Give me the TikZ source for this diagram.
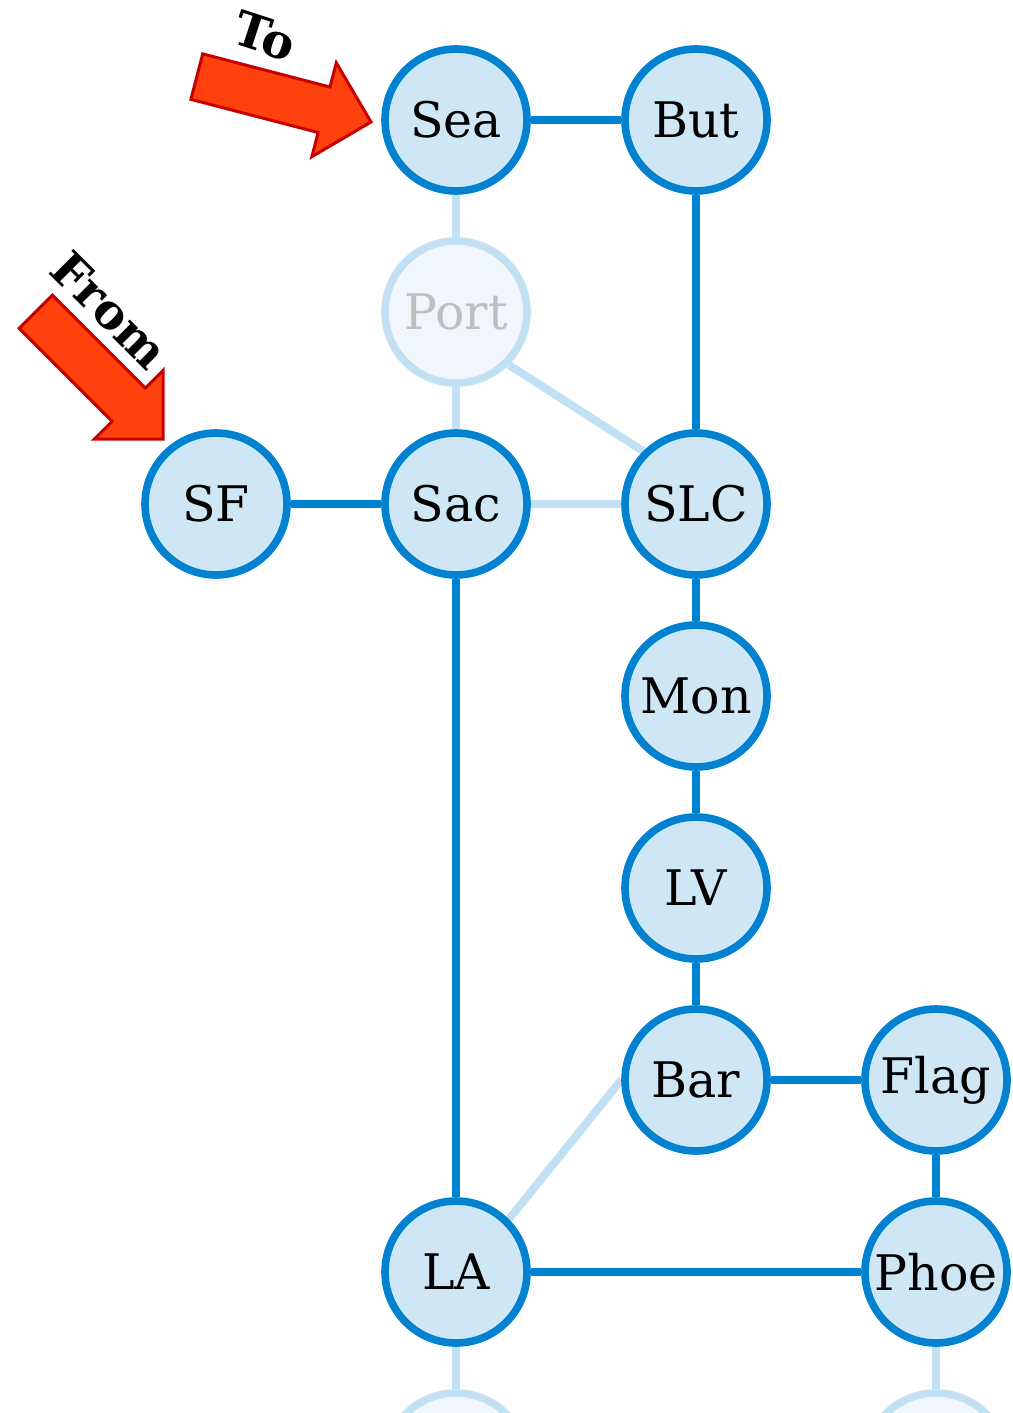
\documentclass[tikz,border=0pt]{standalone}
\usepackage{fontspec}
\setmainfont{DejaVu Serif}
\usetikzlibrary{backgrounds}
\definecolor{roadblue}{HTML}{0082D0}
\definecolor{cityfill}{HTML}{CFE6F4}
\definecolor{dimblue}{HTML}{C2E0F3}
\definecolor{dimfill}{HTML}{F0F6FB}
\definecolor{dimtext}{HTML}{BFBFBF}
\definecolor{arrowfill}{HTML}{FF410D}
\definecolor{arrowline}{HTML}{C80000}
\tikzset{
  city/.style={circle, draw=roadblue, fill=cityfill, line width=3.8pt, minimum size=71pt, inner sep=0pt, font=\fontsize{24.5}{29}\selectfont},
  dimcity/.style={city, draw=dimblue, fill=dimfill, text=dimtext},
  road/.style={draw=roadblue, line width=4pt},
  dimroad/.style={draw=dimblue, line width=4pt},
  pointer/.style={fill=arrowfill, draw=arrowline, line width=1.5pt, line join=miter},
  tag/.style={font=\bfseries\fontsize{24}{28}\selectfont}
}

\begin{document}
\begin{tikzpicture}[x=0.5pt, y=-0.5pt]
\useasboundingbox (0,0) rectangle (1012,1413);
\clip (0,0) rectangle (1012,1413);
\node[city]    (SF)   at (216,504)  {SF};
\node[city]    (Sea)  at (456,120)  {Sea};
\node[dimcity] (Port) at (456,312)  {Port};
\node[city]    (Sac)  at (456,504)  {Sac};
\node[city]    (LA)   at (456,1272) {LA};
\node[dimcity] (nextLA) at (456,1464) {};
\node[city]    (But)  at (696,120)  {But};
\node[city]    (SLC)  at (696,504)  {SLC};
\node[city]    (Mon)  at (696,696)  {Mon};
\node[city]    (LV)   at (696,888)  {LV};
\node[city]    (Bar)  at (696,1080) {Bar};
\node[city]    (Flag) at (936,1080) {Flag};
\node[city]    (Phoe) at (936,1272) {Phoe};
\node[dimcity] (nextPhoe) at (936,1464) {};
\begin{scope}[on background layer]
\foreach \i/\j in {Sea/But, But/SLC, SF/Sac, Sac/LA, SLC/Mon, Mon/LV, LV/Bar, Bar/Flag, Flag/Phoe, LA/Phoe}
{
  \draw[road] (\i) to (\j);
}
\foreach \i/\j in {Sea/Port, Port/Sac, Port.south east/SLC.north west, Sac/SLC, LA.north east/Bar.west, LA/nextLA, Phoe/nextPhoe}
{
  \draw[dimroad] (\i) to (\j);
}
\end{scope}
% the two pointers
\foreach \tx/\ty/\ang in {371/122/-14.6, 163/439/-45}
{
  \begin{scope}[shift={(\tx,\ty)}, rotate=\ang]
    \draw[pointer] (-180,-23.5) -- (-48.5,-23.5) -- (-48.5,-48.5) -- (0,0)
      -- (-48.5,48.5) -- (-48.5,23.5) -- (-180,23.5) -- cycle;
  \end{scope}
}
\node[tag, rotate=-18] (to)   at (265,36)  {To};
\node[tag, rotate=-45] (from) at (110,310) {From};
\end{tikzpicture}
\end{document}
